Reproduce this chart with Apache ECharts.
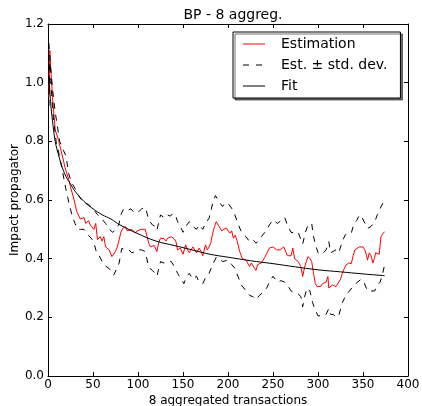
<!DOCTYPE html>
<html>
<head>
<meta charset="utf-8">
<script src="https://cdn.jsdelivr.net/npm/echarts@6/dist/echarts.min.js"></script>
<style>html,body{margin:0;padding:0;background:#fff}#c{width:422px;height:406px}</style>
</head>
<body>
<div id="c"></div>
<script>
const titleText = "BP - 8 aggreg.";
const xLabel = "8 aggregated transactions";
const yLabel = "Impact propagator";
const legendNames = ["Estimation", "Est. \u00b1 std. dev.", "Fit"];
const xTicks = [0, 50, 100, 150, 200, 250, 300, 350, 400];
const yTicks = [0.0, 0.2, 0.4, 0.6, 0.8, 1.0, 1.2];

const estimation = [[1,0.95],[2,1.11],[3,1.05],[5,0.95],[8,0.84],[12,0.80],[16,0.75],[19,0.71],[23,0.67],[25,0.645],
[29,0.60],[32,0.56],[36,0.535],[38,0.53],[40,0.54],[42,0.52],[45,0.53],[47,0.515],[49,0.51],[51,0.50],
[53,0.52],[55,0.465],[58,0.475],[60,0.46],[62,0.475],[64,0.44],[66,0.445],[68,0.43],[71,0.407],[73,0.415],
[75,0.425],[77,0.44],[79,0.464],[81,0.49],[83,0.503],[86,0.51],[88,0.495],[90,0.49],[93,0.50],[95,0.505],
[97,0.487],[99,0.495],[101,0.49],[104,0.50],[106,0.495],[108,0.50],[110,0.475],[112,0.452],[114,0.44],[116,0.436],
[118,0.445],[120,0.44],[121,0.424],[123,0.455],[125,0.47],[127,0.465],[129,0.468],[131,0.46],[133,0.47],[135,0.465],
[137,0.475],[140,0.468],[142,0.46],[144,0.43],[147,0.436],[150,0.415],[153,0.447],[155,0.43],[157,0.42],[159,0.43],
[161,0.44],[163,0.43],[165,0.42],[168,0.436],[170,0.425],[172,0.41],[175,0.447],[177,0.43],[179,0.44],[181,0.455],
[183,0.487],[185,0.51],[187,0.526],[189,0.515],[191,0.51],[193,0.495],[195,0.49],[198,0.505],[200,0.50],[202,0.487],
[204,0.495],[206,0.47],[208,0.48],[210,0.462],[213,0.424],[216,0.40],[218,0.405],[220,0.395],[222,0.39],[224,0.373],
[226,0.385],[228,0.375],[231,0.36],[233,0.38],[235,0.377],[237,0.385],[239,0.395],[241,0.405],[243,0.41],[246,0.436],
[248,0.44],[250,0.44],[252,0.445],[254,0.43],[256,0.424],[258,0.43],[260,0.436],[262,0.44],[264,0.425],[266,0.41],
[268,0.405],[270,0.41],[272,0.436],[274,0.40],[276,0.395],[278,0.39],[280,0.395],[281,0.373],[283,0.339],[285,0.37],
[287,0.39],[289,0.407],[291,0.40],[293,0.39],[295,0.35],[297,0.315],[299,0.305],[301,0.31],[303,0.305],[305,0.315],
[307,0.31],[309,0.32],[311,0.339],[312,0.30],[314,0.30],[316,0.31],[318,0.315],[320,0.305],[322,0.31],[325,0.33],
[327,0.35],[329,0.365],[331,0.378],[334,0.385],[337,0.383],[339,0.41],[341,0.43],[343,0.435],[346,0.44],[348,0.435],
[350,0.44],[352,0.43],[354,0.41],[355,0.395],[357,0.42],[359,0.41],[361,0.385],[363,0.405],[364,0.42],[366,0.415],
[368,0.415],[370,0.475],[372,0.485],[374,0.492]];

const upperStd = [[1,1.135],[3,1.05],[5,0.98],[8,0.90],[10,0.86],[13,0.80],[17,0.77],[20,0.75],[23,0.69],[26,0.66],
[30,0.64],[35,0.61],[40,0.59],[45,0.585],[50,0.57],[55,0.55],[60,0.535],[64,0.52],[68,0.50],[72,0.49],
[76,0.50],[79,0.52],[81,0.55],[84,0.57],[86,0.575],[89,0.565],[92,0.57],[95,0.56],[98,0.565],[101,0.56],
[104,0.57],[108,0.575],[110,0.555],[112,0.532],[116,0.515],[119,0.51],[121,0.497],[125,0.549],[129,0.54],[132,0.55],
[136,0.545],[139,0.555],[142,0.545],[144,0.526],[147,0.51],[150,0.49],[153,0.51],[157,0.526],[161,0.51],[165,0.50],
[168,0.515],[172,0.50],[175,0.52],[179,0.538],[183,0.589],[186,0.615],[190,0.595],[194,0.578],[197,0.59],[200,0.589],
[204,0.572],[207,0.555],[211,0.52],[215,0.49],[220,0.475],[224,0.458],[228,0.464],[231,0.453],[234,0.46],[237,0.475],
[241,0.49],[246,0.515],[250,0.532],[255,0.52],[259,0.53],[263,0.54],[266,0.515],[270,0.49],[274,0.487],[278,0.49],
[281,0.464],[283,0.45],[286,0.49],[289,0.515],[293,0.52],[295,0.475],[298,0.44],[300,0.42],[303,0.415],[306,0.42],
[309,0.43],[312,0.458],[314,0.42],[316,0.425],[320,0.43],[323,0.42],[327,0.458],[330,0.48],[333,0.487],[337,0.487],
[340,0.52],[343,0.53],[346,0.549],[349,0.54],[351,0.537],[355,0.503],[359,0.51],[363,0.526],[366,0.55],[370,0.577],
[374,0.6]];

const lowerStd = [[1,0.92],[2,1.07],[4,0.96],[6,0.88],[9,0.80],[12,0.76],[16,0.70],[20,0.635],[24,0.58],[27,0.545],
[30,0.52],[33,0.50],[36,0.50],[40,0.50],[43,0.485],[45,0.49],[48,0.47],[51,0.455],[54,0.42],[57,0.41],
[60,0.39],[64,0.375],[68,0.366],[71,0.354],[73,0.344],[75,0.34],[77,0.37],[79,0.385],[82,0.435],[86,0.43],
[90,0.43],[93,0.42],[97,0.424],[101,0.43],[104,0.43],[108,0.424],[112,0.37],[116,0.36],[119,0.35],[121,0.34],
[125,0.39],[129,0.385],[133,0.39],[137,0.39],[140,0.375],[144,0.35],[148,0.33],[151,0.315],[154,0.34],[157,0.35],
[161,0.33],[165,0.34],[168,0.32],[172,0.315],[175,0.335],[179,0.35],[183,0.38],[187,0.405],[190,0.40],[194,0.39],
[200,0.395],[204,0.38],[207,0.37],[211,0.34],[215,0.31],[220,0.29],[224,0.275],[228,0.27],[231,0.26],[235,0.275],
[239,0.285],[243,0.30],[246,0.32],[250,0.34],[255,0.32],[259,0.325],[263,0.32],[266,0.31],[270,0.29],[274,0.285],
[278,0.28],[281,0.27],[283,0.236],[285,0.27],[288,0.30],[291,0.29],[294,0.25],[297,0.225],[300,0.205],[303,0.205],
[306,0.21],[309,0.21],[312,0.23],[314,0.21],[317,0.21],[320,0.2],[323,0.205],[327,0.25],[331,0.275],[335,0.29],
[340,0.31],[344,0.32],[348,0.33],[351,0.32],[355,0.29],[359,0.29],[363,0.29],[366,0.31],[369,0.32],[372,0.35],
[374,0.38]];

const fitCurve = [[1,1.02],[3,0.93],[5,0.87],[8,0.80],[12,0.75],[16,0.71],[20,0.68],[25,0.655],[30,0.63],[40,0.595],
[50,0.57],[60,0.55],[70,0.535],[80,0.515],[100,0.485],[120,0.46],[140,0.445],[160,0.43],[180,0.415],[200,0.405],
[225,0.393],[250,0.383],[275,0.372],[300,0.362],[325,0.355],[350,0.348],[374,0.342]];

const FONT = "DejaVu Sans";
const chart = echarts.init(document.getElementById('c'), null, {renderer: 'canvas'});
const xStep = xTicks[1] - xTicks[0];
const yStep = yTicks[1] - yTicks[0];
const baseX = {
  type: 'value', min: xTicks[0], max: xTicks[xTicks.length - 1], interval: xStep,
  axisLine: {show: true, onZero: false, lineStyle: {color: '#000', width: 1}},
  axisTick: {show: true, inside: true, length: 4, lineStyle: {color: '#000'}},
  splitLine: {show: false}
};
const baseY = {
  type: 'value', min: yTicks[0], max: yTicks[yTicks.length - 1], interval: yStep,
  axisLine: {show: true, onZero: false, lineStyle: {color: '#000', width: 1}},
  axisTick: {show: true, inside: true, length: 4, lineStyle: {color: '#000'}},
  splitLine: {show: false}
};
const solidIcon = 'path://M0,0H22V1H0Z';
const dashIcon = 'path://M0,0H6V1H0Z M13,0H19V1H13Z M22,0H22V1H22Z';
chart.setOption({
  animation: false,
  backgroundColor: '#fff',
  title: {text: titleText, left: 228, textAlign: 'center', top: 3,
    textStyle: {fontFamily: FONT, fontSize: 14, fontWeight: 'normal', color: '#000'}},
  grid: {left: 48, top: 24, right: 14, bottom: 30, containLabel: false, outerBoundsMode: 'none'},
  legend: {
    orient: 'vertical', left: 233, top: 32,
    data: [
      {name: legendNames[0], icon: solidIcon},
      {name: legendNames[1], icon: dashIcon},
      {name: legendNames[2], icon: solidIcon}
    ],
    symbolKeepAspect: false,
    itemWidth: 22, itemHeight: 1, itemGap: 7,
    padding: [5, 13, 5, 10],
    backgroundColor: '#fff', borderColor: '#000', borderWidth: 1, borderRadius: 0,
    shadowColor: 'rgba(0,0,0,0.55)', shadowOffsetX: 2, shadowOffsetY: 2, shadowBlur: 0,
    textStyle: {fontFamily: FONT, fontSize: 14, lineHeight: 14, color: '#000', padding: [0, 0, 0, 11]}
  },
  xAxis: [
    Object.assign({}, baseX, {position: 'bottom', name: xLabel, nameLocation: 'middle', nameGap: 19,
      nameMoveOverlap: false,
      nameTextStyle: {fontFamily: FONT, fontSize: 12, color: '#000'},
      axisLabel: {show: true, margin: 3, fontFamily: FONT, fontSize: 12, color: '#000',
        formatter: v => String(Math.round(v))}}),
    Object.assign({}, baseX, {position: 'top', axisLabel: {show: false}})
  ],
  yAxis: [
    Object.assign({}, baseY, {position: 'left', name: yLabel, nameLocation: 'middle', nameGap: 27,
      nameMoveOverlap: false,
      nameTextStyle: {fontFamily: FONT, fontSize: 12, color: '#000'},
      axisLabel: {show: true, margin: 4, fontFamily: FONT, fontSize: 12, color: '#000',
        formatter: v => v.toFixed(1)}}),
    Object.assign({}, baseY, {position: 'right', axisLabel: {show: false}})
  ],
  series: [
    {name: legendNames[0], type: 'line', data: estimation, symbol: 'none', xAxisIndex: 0, yAxisIndex: 0,
      lineStyle: {color: '#ff0000', width: 1}, itemStyle: {color: '#ff0000'}, z: 2},
    {name: legendNames[1], type: 'line', data: upperStd, symbol: 'none',
      lineStyle: {color: '#000', width: 1, type: [6, 6]}, itemStyle: {color: '#000'}, z: 3},
    {name: legendNames[1], type: 'line', data: lowerStd, symbol: 'none',
      lineStyle: {color: '#000', width: 1, type: [6, 6]}, itemStyle: {color: '#000'}, z: 3},
    {name: legendNames[2], type: 'line', data: fitCurve, symbol: 'none', smooth: 0.4,
      lineStyle: {color: '#000', width: 1}, itemStyle: {color: '#000'}, z: 4}
  ]
});
</script>
</body>
</html>
